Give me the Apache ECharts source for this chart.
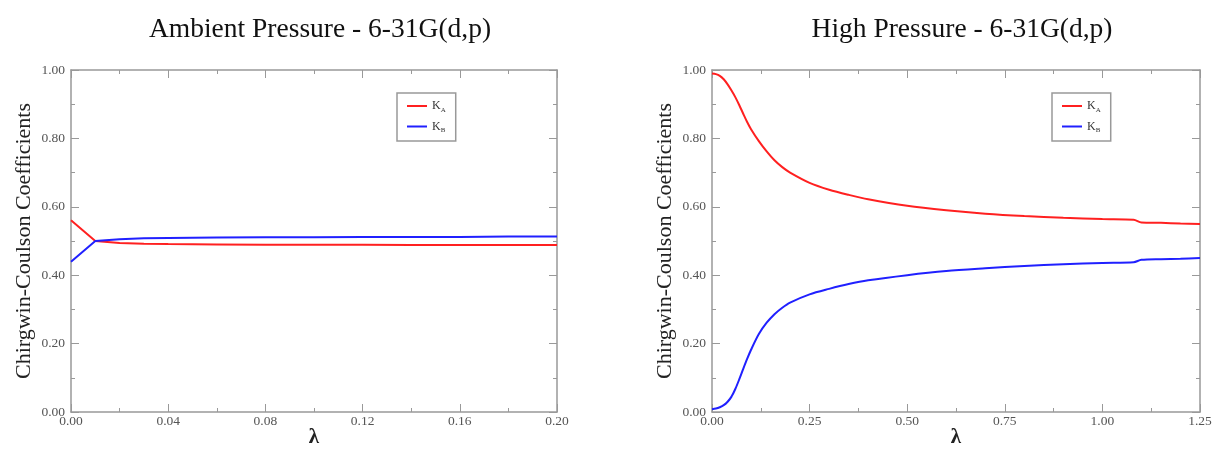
<!DOCTYPE html>
<html><head><meta charset="utf-8">
<script src="https://cdn.jsdelivr.net/npm/echarts@6/dist/echarts.min.js"></script>
<style>html,body{margin:0;padding:0;background:#fff}#c{width:1215px;height:450px}</style>
</head><body><div id="c"></div>
<script>
// Ambient pressure data
const lambdaAmb = [0, 0.01, 0.02, 0.03, 0.04, 0.06, 0.08, 0.10, 0.12, 0.14, 0.16, 0.18, 0.20];
const kaAmb = [0.561, 0.500, 0.494, 0.492, 0.491, 0.490, 0.489, 0.489, 0.489, 0.488, 0.488, 0.488, 0.488];
const kbAmb = [0.439, 0.500, 0.505, 0.508, 0.509, 0.510, 0.511, 0.511, 0.512, 0.512, 0.512, 0.513, 0.513];
// High pressure data
const lambdaHigh = [0, 0.01, 0.02, 0.03, 0.04, 0.05, 0.06, 0.07, 0.08, 0.09, 0.10, 0.12, 0.14, 0.16, 0.18, 0.20, 0.25, 0.30, 0.35, 0.40, 0.50, 0.60, 0.70, 0.80, 0.90, 1.00, 1.08, 1.10, 1.15, 1.20, 1.25];
const kaHigh = [0.990, 0.988, 0.983, 0.973, 0.958, 0.940, 0.920, 0.897, 0.872, 0.848, 0.827, 0.792, 0.762, 0.736, 0.716, 0.700, 0.670, 0.650, 0.635, 0.622, 0.603, 0.590, 0.580, 0.573, 0.568, 0.564, 0.562, 0.554, 0.553, 0.551, 0.550];
const kbHigh = [0.008, 0.010, 0.014, 0.020, 0.030, 0.045, 0.068, 0.096, 0.126, 0.155, 0.182, 0.228, 0.261, 0.286, 0.305, 0.320, 0.344, 0.360, 0.374, 0.385, 0.400, 0.412, 0.420, 0.427, 0.432, 0.436, 0.438, 0.445, 0.447, 0.448, 0.450];
const yTicks = [0, 0.2, 0.4, 0.6, 0.8, 1.0];

const serif = '"Liberation Serif","DejaVu Serif",serif';
const frame = '#999';
const red = '#ff2020', blue = '#2020ff';
const pair = (xs, ys) => xs.map((x, i) => [x, ys[i]]);

function xAx(gi, max, interval, pos) {
  const main = pos === 'bottom';
  return {
    type: 'value', gridIndex: gi, min: 0, max: max, interval: interval, position: pos,
    axisLine: {show: true, onZero: false, lineStyle: {color: frame, width: 1.5}},
    axisTick: {show: true, inside: true, length: 8, lineStyle: {color: frame}},
    minorTick: {show: true, splitNumber: 2, length: 4, lineStyle: {color: frame}},
    splitLine: {show: false},
    axisLabel: {show: main, color: '#555', fontFamily: serif, fontSize: 13.5, margin: 2, formatter: v => v.toFixed(2)},
    name: main ? 'λ' : '', nameLocation: 'middle', nameGap: 15, nameMoveOverlap: false,
    nameTextStyle: {fontFamily: serif, fontSize: 21, fontWeight: 'bold', color: '#222'}
  };
}
function yAx(gi, pos) {
  const main = pos === 'left';
  return {
    type: 'value', gridIndex: gi, min: 0, max: 1, interval: 0.2, position: pos,
    axisLine: {show: true, onZero: false, lineStyle: {color: frame, width: 1.5}},
    axisTick: {show: true, inside: true, length: 8, lineStyle: {color: frame}},
    minorTick: {show: true, splitNumber: 2, length: 4, lineStyle: {color: frame}},
    splitLine: {show: false},
    axisLabel: {show: main, color: '#555', fontFamily: serif, fontSize: 13.5, margin: 6,
      formatter: v => (yTicks.some(t => Math.abs(t - v) < 1e-9) ? v.toFixed(2) : '')},
    name: main ? 'Chirgwin-Coulson Coefficients' : '', nameLocation: 'middle', nameGap: 36, nameMoveOverlap: false,
    nameTextStyle: {fontFamily: serif, fontSize: 22, color: '#222'}
  };
}
function legend(left, names) {
  return {
    data: names.map(n => ({name: n, icon: 'path://M0,0 L20,0 L20,2 L0,2 Z'})),
    left: left, top: 93, orient: 'vertical', padding: [7, 10, 7, 10], itemGap: 7,
    borderColor: frame, borderWidth: 1.5, borderRadius: 0, itemWidth: 20, itemHeight: 2,
    formatter: n => '{k|K}{s|' + n.trim().slice(-1) + '}',
    textStyle: {rich: {k: {fontFamily: serif, fontSize: 12, color: '#333'}, s: {fontFamily: serif, fontSize: 7, color: '#333', padding: [8, 0, 0, 0]}}}
  };
}
function line(name, xi, yi, data, color, smooth) {
  return {name: name, type: 'line', xAxisIndex: xi, yAxisIndex: yi, data: data, symbol: 'none',
    smooth: smooth, lineStyle: {color: color, width: 2}, itemStyle: {color: color}, silent: true};
}

const chart = echarts.init(document.getElementById('c'));
chart.setOption({
  animation: false,
  title: [
    {text: 'Ambient Pressure - 6-31G(d,p)', left: 315, top: 11, textAlign: 'center',
     textStyle: {fontFamily: serif, fontSize: 27.5, fontWeight: 'normal', color: '#111'}},
    {text: 'High Pressure - 6-31G(d,p)', left: 957, top: 11, textAlign: 'center',
     textStyle: {fontFamily: serif, fontSize: 27.5, fontWeight: 'normal', color: '#111'}}
  ],
  grid: [
    {left: 71, width: 486, top: 70, height: 342, outerBoundsMode: 'none', containLabel: false},
    {left: 712, width: 488, top: 70, height: 342, outerBoundsMode: 'none', containLabel: false}
  ],
  xAxis: [xAx(0, 0.2, 0.04, 'bottom'), xAx(0, 0.2, 0.04, 'top'), xAx(1, 1.25, 0.25, 'bottom'), xAx(1, 1.25, 0.25, 'top')],
  yAxis: [yAx(0, 'left'), yAx(0, 'right'), yAx(1, 'left'), yAx(1, 'right')],
  legend: [legend(397, ['KA ', 'KB ']), legend(1052, ['KA', 'KB'])],
  series: [
    line('KA ', 0, 0, pair(lambdaAmb, kaAmb), red, false),
    line('KB ', 0, 0, pair(lambdaAmb, kbAmb), blue, false),
    line('KA', 2, 2, pair(lambdaHigh, kaHigh), red, 0.3),
    line('KB', 2, 2, pair(lambdaHigh, kbHigh), blue, 0.3)
  ]
});
</script></body></html>
